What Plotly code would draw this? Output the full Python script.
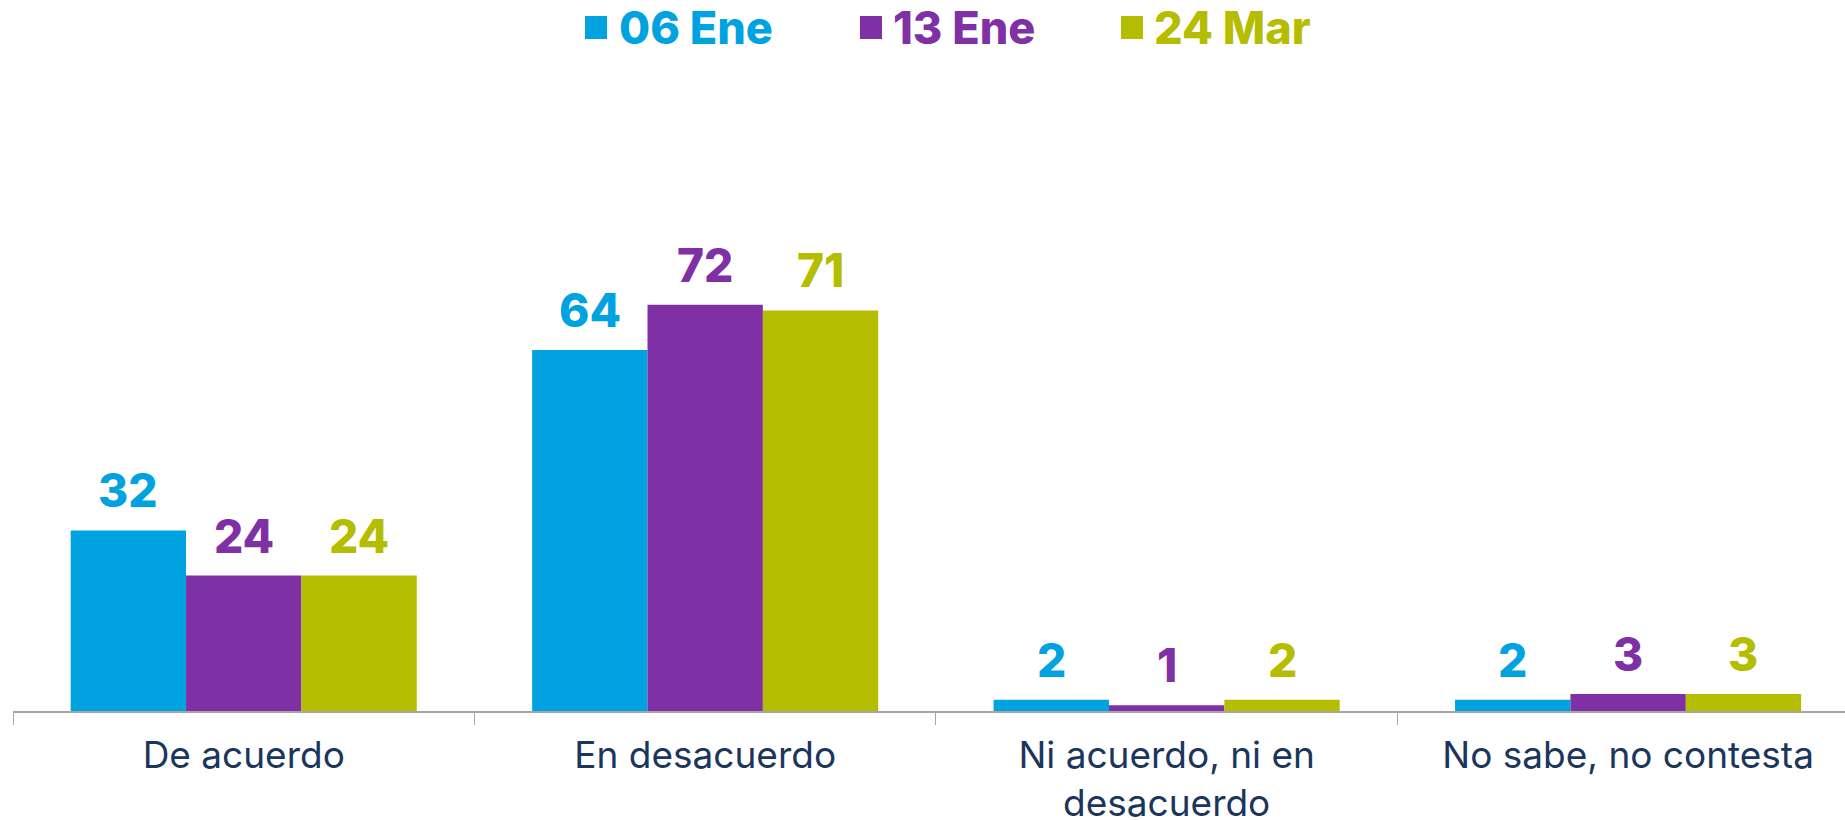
import plotly.graph_objects as go

categories = ["De acuerdo", "En desacuerdo", "Ni acuerdo, ni en<br>desacuerdo", "No sabe, no contesta"]
series_names = ["06 Ene", "13 Ene", "24 Mar"]
values_06ene = [32, 64, 2, 2]
values_13ene = [24, 72, 1, 3]
values_24mar = [24, 71, 2, 3]
colors = ["#00A3E0", "#7F30A5", "#B5BD00"]

all_values = [values_06ene, values_13ene, values_24mar]

W, H = 1845, 820
ML, MR, MT = 13, 0, 60
AXIS_Y = 711
MB = H - AXIS_Y
plot_w = W - ML - MR
plot_h = H - MT - MB
x_range = [-0.5, 3.47]
y_range = [0, 115.4]
bargap = 0.25
px_per_cat = plot_w / (x_range[1] - x_range[0])
bar_px = px_per_cat * (1 - bargap) / len(series_names)

fig = go.Figure()
for name, vals, col in zip(series_names, all_values, colors):
    fig.add_trace(go.Bar(
        x=categories, y=vals, name=name,
        marker=dict(color=col, line=dict(width=0)),
        showlegend=False,
    ))

annotations = []
for i, (vals, col) in enumerate(zip(all_values, colors)):
    for c, v in zip(categories, vals):
        annotations.append(dict(
            x=c, y=v, xref="x", yref="y", text=str(v), showarrow=False,
            xanchor="center", yanchor="bottom",
            xshift=(i - 1) * bar_px, yshift=10,
            font=dict(family="Inter", size=46, color=col, weight=800),
        ))

# custom legend (page pixel positions)
legend_sq_x = [585, 860, 1121]
legend_txt_x = [617, 891, 1152]
shapes = []
for name, col, sx, tx in zip(series_names, colors, legend_sq_x, legend_txt_x):
    shapes.append(dict(
        type="rect", xref="paper", yref="paper",
        x0=(sx - ML) / plot_w, x1=(sx + 22 - ML) / plot_w,
        y0=(AXIS_Y - 39) / plot_h, y1=(AXIS_Y - 16) / plot_h,
        fillcolor=col, line=dict(width=0),
    ))
    annotations.append(dict(
        x=(tx - ML) / plot_w, y=(AXIS_Y - 28) / plot_h, xref="paper", yref="paper",
        text=name, showarrow=False, xanchor="left", yanchor="middle",
        font=dict(family="Inter", size=45, color=col, weight=800),
    ))

fig.update_layout(
    width=W, height=H,
    margin=dict(l=ML, r=MR, t=MT, b=MB, autoexpand=False),
    paper_bgcolor="white", plot_bgcolor="white",
    barmode="group", bargap=bargap, bargroupgap=0,
    annotations=annotations, shapes=shapes,
    xaxis=dict(
        range=x_range, showgrid=False, zeroline=False, automargin=False,
        showline=True, linecolor="#A6A6A6", linewidth=1.5,
        ticks="outside", tickson="boundaries", ticklen=12, tickcolor="#A6A6A6", tickwidth=1,
        tickfont=dict(family="Inter", size=37, color="#1B365D"),
        ticklabelstandoff=11,
    ),
    yaxis=dict(range=y_range, visible=False, showgrid=False, zeroline=False, automargin=False),
)

fig.write_html(
    "out.html",
    config={"displayModeBar": False},
    post_script="document.body.style.margin='0';document.body.style.overflow='hidden';",
)
